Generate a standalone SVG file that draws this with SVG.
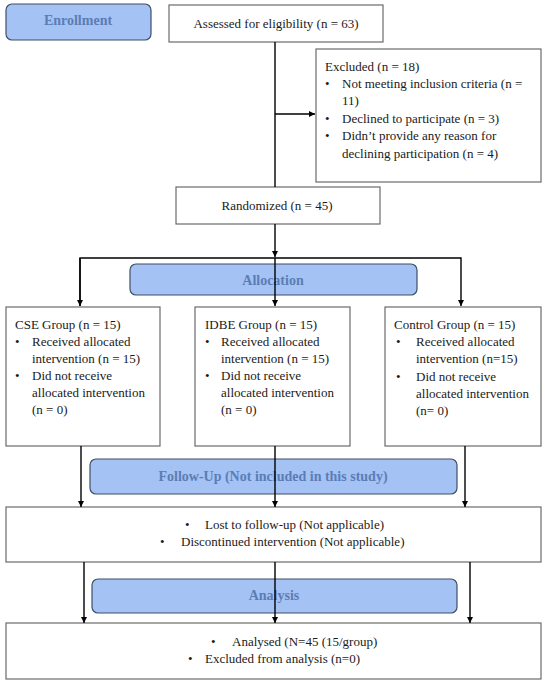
<svg xmlns="http://www.w3.org/2000/svg" width="550" height="686" viewBox="0 0 550 686">
<style>
.box{fill:#ffffff;stroke:#6b6b6b;stroke-width:1.2}
.hdr{fill:#a4c2f4;stroke:#3e4f66;stroke-width:1.2}
.t{font-family:"Liberation Serif","Times New Roman",serif;font-size:13px;fill:#1a1a1a}
.h{font-family:"Liberation Serif","Times New Roman",serif;font-size:14px;font-weight:bold;fill:#5b7db5;text-anchor:middle}
.c{fill:none;stroke:#000;stroke-width:1.4}
.mid{text-anchor:middle}
</style>
<defs>
<marker id="ah" viewBox="0 0 10 10" refX="10" refY="5" markerWidth="6" markerHeight="6" markerUnits="userSpaceOnUse" orient="auto">
<path d="M0,0 L10,5 L0,10 z" fill="#000"/>
</marker>
</defs>
<rect width="550" height="686" fill="#fff"/>

<g id="enrollment">
<rect class="hdr" x="6" y="4" width="145" height="36" rx="6"/>
<text class="h" x="78" y="25">Enrollment</text>
</g>
<g id="assessed">
<rect class="box" x="169" y="5" width="214" height="37"/>
<text class="t mid" x="276" y="28">Assessed for eligibility (n = 63)</text>
</g>
<g id="excluded">
<rect class="box" x="316" y="49" width="225" height="133"/>
<text class="t" x="325" y="71">Excluded (n = 18)</text>
<text class="t" x="325" y="88">•</text><text class="t" x="342" y="88">Not meeting inclusion criteria (n =</text>
<text class="t" x="342" y="105">11)</text>
<text class="t" x="325" y="123">•</text><text class="t" x="342" y="123">Declined to participate (n = 3)</text>
<text class="t" x="325" y="140">•</text><text class="t" x="342" y="140">Didn’t provide any reason for</text>
<text class="t" x="342" y="158">declining participation (n = 4)</text>
</g>
<g id="randomized">
<rect class="box" x="176" y="187" width="204" height="37"/>
<text class="t mid" x="277" y="210">Randomized (n = 45)</text>
</g>
<g id="allocation">
<rect class="hdr" x="130" y="264" width="287" height="31" rx="6"/>
<text class="h" x="273" y="285">Allocation</text>
</g>
<g id="cse">
<rect class="box" x="6" y="307" width="154" height="139"/>
<text class="t" x="15" y="329">CSE Group (n = 15)</text>
<text class="t" x="15" y="346">•</text><text class="t" x="32" y="346">Received allocated</text>
<text class="t" x="32" y="363">intervention (n = 15)</text>
<text class="t" x="15" y="380">•</text><text class="t" x="32" y="380">Did not receive</text>
<text class="t" x="32" y="397">allocated intervention</text>
<text class="t" x="32" y="414">(n = 0)</text>
</g>
<g id="idbe">
<rect class="box" x="195" y="307" width="155" height="139"/>
<text class="t" x="205" y="329">IDBE Group (n = 15)</text>
<text class="t" x="205" y="346">•</text><text class="t" x="221" y="346">Received allocated</text>
<text class="t" x="221" y="363">intervention (n = 15)</text>
<text class="t" x="205" y="380">•</text><text class="t" x="221" y="380">Did not receive</text>
<text class="t" x="221" y="397">allocated intervention</text>
<text class="t" x="221" y="414">(n = 0)</text>
</g>
<g id="control">
<rect class="box" x="385" y="307" width="156" height="139"/>
<text class="t" x="394" y="329">Control Group (n = 15)</text>
<text class="t" x="396" y="346">•</text><text class="t" x="416" y="346">Received allocated</text>
<text class="t" x="416" y="363">intervention (n=15)</text>
<text class="t" x="396" y="381">•</text><text class="t" x="416" y="381">Did not receive</text>
<text class="t" x="416" y="398">allocated intervention</text>
<text class="t" x="416" y="415">(n= 0)</text>
</g>
<g id="followup-hdr">
<rect class="hdr" x="90" y="459" width="367" height="35" rx="6"/>
<text class="h" x="273" y="481">Follow-Up (Not included in this study)</text>
</g>
<g id="followup">
<rect class="box" x="6" y="507" width="535" height="55"/>
<text class="t" x="185" y="529">•</text><text class="t" x="205" y="529">Lost to follow-up (Not applicable)</text>
<text class="t" x="160" y="546">•</text><text class="t" x="181" y="546">Discontinued intervention (Not applicable)</text>
</g>
<g id="analysis-hdr">
<rect class="hdr" x="92" y="579" width="365" height="34" rx="6"/>
<text class="h" x="274" y="600">Analysis</text>
</g>
<g id="analysis">
<rect class="box" x="6" y="623" width="535" height="56"/>
<text class="t" x="211" y="646">•</text><text class="t" x="232" y="646">Analysed (N=45 (15/group)</text>
<text class="t" x="188" y="663">•</text><text class="t" x="205" y="663">Excluded from analysis (n=0)</text>
</g>

<g id="connectors">
<path class="c" d="M275,42 V187"/>
<path class="c" d="M275,114 H315" marker-end="url(#ah)"/>
<path class="c" d="M275,224 V257" marker-end="url(#ah)"/>
<path class="c" d="M80,306 V258 H461 V306" marker-end="url(#ah)"/>
<path class="c" d="M80,258 V306" marker-end="url(#ah)"/>
<path class="c" d="M275,258 V306" marker-end="url(#ah)"/>
<path class="c" d="M81,446 V507" marker-end="url(#ah)"/>
<path class="c" d="M275,446 V507" marker-end="url(#ah)"/>
<path class="c" d="M465,446 V507" marker-end="url(#ah)"/>
<path class="c" d="M84,562 V623" marker-end="url(#ah)"/>
<path class="c" d="M275,562 V623" marker-end="url(#ah)"/>
<path class="c" d="M470,562 V623" marker-end="url(#ah)"/>
</g>
</svg>
